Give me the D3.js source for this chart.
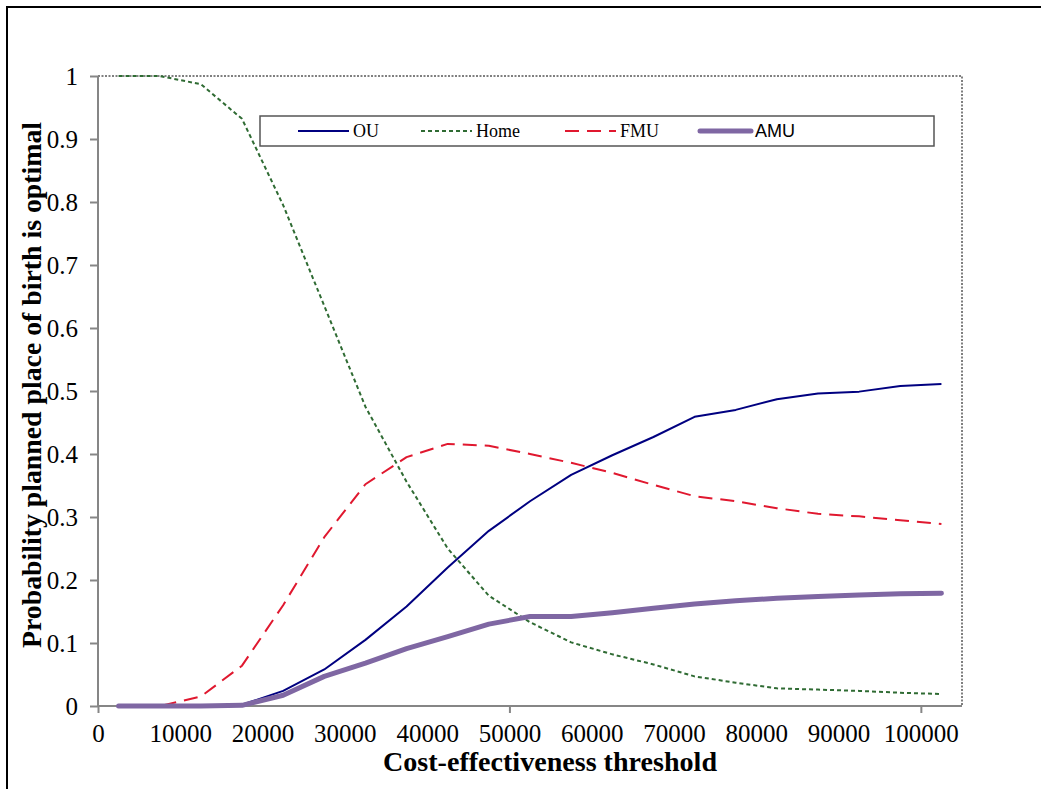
<!DOCTYPE html>
<meta charset="utf-8">
<style>
body { margin: 0; background: #fff; }
.axis path, .axis line { stroke: #868686; stroke-width: 2; }
.title { font-family: "Liberation Serif", "Times New Roman", serif; font-weight: bold; font-size: 28px; fill: #000; }
.legend text { font-size: 18px; fill: #000; }
</style>
<svg width="1041" height="789"></svg>
<script src="https://cdn.jsdelivr.net/npm/d3@7"></script>
<script>

// thresholds (cost-effectiveness) at which each probability was evaluated
var thresholds = [2500, 7500, 12500, 17500, 22500, 27500, 32500, 37500, 42500, 47500,
                  52500, 57500, 62500, 67500, 72500, 77500, 82500, 87500, 92500, 97500, 102500];

var ou   = [0, 0, 0, 0.002, 0.024, 0.058, 0.105, 0.158, 0.22, 0.278,
            0.325, 0.367, 0.398, 0.427, 0.459, 0.47, 0.487, 0.496, 0.499, 0.508, 0.511];
var home = [1.0, 1.0, 0.987, 0.932, 0.795, 0.635, 0.475, 0.356, 0.25, 0.175,
            0.133, 0.101, 0.082, 0.066, 0.047, 0.037, 0.028, 0.026, 0.024, 0.021, 0.019];
var fmu  = [0, 0, 0.015, 0.064, 0.16, 0.268, 0.352, 0.395, 0.416, 0.413,
            0.4, 0.386, 0.37, 0.351, 0.333, 0.325, 0.314, 0.305, 0.301, 0.295, 0.289];
var amu  = [0, 0, 0, 0.001, 0.017, 0.047, 0.068, 0.091, 0.11, 0.13,
            0.142, 0.142, 0.148, 0.155, 0.162, 0.167, 0.171, 0.174, 0.176, 0.178, 0.179];

var xTicks = [0, 10000, 20000, 30000, 40000, 50000, 60000, 70000, 80000, 90000, 100000];
var yTicks = [0, 0.1, 0.2, 0.3, 0.4, 0.5, 0.6, 0.7, 0.8, 0.9, 1];

var series = [
  {name: "OU",   values: ou,   color: "#000080", width: 2,   dash: null,   font: "Liberation Serif"},
  {name: "Home", values: home, color: "#2f6b33", width: 2,   dash: "4,3",  font: "Liberation Serif"},
  {name: "FMU",  values: fmu,  color: "#e0182f", width: 2,   dash: "14,8", font: "Liberation Serif"},
  {name: "AMU",  values: amu,  color: "#7f67a3", width: 5,   dash: null,   font: "Liberation Sans"}
];

var svg = d3.select("svg"),
    margin = {top: 76, right: 79, bottom: 83, left: 98},
    width = +svg.attr("width") - margin.left - margin.right,
    height = +svg.attr("height") - margin.top - margin.bottom;

// outer frame
svg.append("rect")
    .attr("x", 7).attr("y", 7)
    .attr("width", 1060).attr("height", 820)
    .attr("fill", "none")
    .attr("stroke", "#000")
    .attr("stroke-width", 2);

var x = d3.scaleLinear().domain([0, 105000]).range([0, width]),
    y = d3.scaleLinear().domain([0, 1]).range([height, 0]);

var g = svg.append("g")
    .attr("transform", "translate(" + margin.left + "," + margin.top + ")");

// dotted top and right edges of plot area
g.append("path")
    .attr("d", "M0,0H" + width + "V" + height)
    .attr("fill", "none")
    .attr("stroke", "#000")
    .attr("stroke-width", 1)
    .attr("stroke-dasharray", "2,1.5");

var ya = g.append("g")
    .attr("class", "axis axis--y")
    .call(d3.axisLeft(y).tickValues(yTicks).tickSize(8).tickPadding(12)
      .tickFormat(function(d) { return d === 0 || d === 1 ? d3.format("d")(d) : d3.format(".1f")(d); }))
    .call(function(a) { a.select(".domain").attr("d", "M0,0V" + height); });

var xa = g.append("g")
    .attr("class", "axis axis--x")
    .attr("transform", "translate(0," + height + ")")
    .call(d3.axisBottom(x).tickValues(xTicks).tickSize(7).tickPadding(11).tickFormat(d3.format("d")))
    .call(function(a) { a.select(".domain").attr("d", "M0,0H" + width); });

xa.selectAll(".tick line")
    .attr("display", function(d) { return d % 50000 === 0 ? null : "none"; });

svg.selectAll(".axis")
    .attr("font-family", "Liberation Serif, Times New Roman, serif")
    .attr("font-size", 25);
svg.selectAll(".axis text")
    .style("font-size", "25px")
    .style("font-family", "'Liberation Serif', 'Times New Roman', serif")
    .attr("fill", "#000");

var line = d3.line()
    .x(function(d, i) { return x(thresholds[i]); })
    .y(function(d) { return y(d); });

g.selectAll(".series")
    .data(series)
  .enter().append("path")
    .attr("class", "series")
    .attr("d", function(d) { return line(d.values); })
    .attr("fill", "none")
    .attr("stroke", function(d) { return d.color; })
    .attr("stroke-width", function(d) { return d.width; })
    .attr("stroke-dasharray", function(d) { return d.dash; })
    .attr("stroke-linecap", function(d) { return d.name === "AMU" ? "round" : "butt"; })
    .attr("stroke-linejoin", "round");

// axis titles
svg.append("text")
    .attr("class", "title")
    .attr("x", 550).attr("y", 771)
    .attr("text-anchor", "middle")
    .attr("textLength", 334)
    .attr("lengthAdjust", "spacingAndGlyphs")
    .text("Cost-effectiveness threshold");

svg.append("text")
    .attr("class", "title")
    .attr("transform", "translate(41,385) rotate(-90)")
    .attr("text-anchor", "middle")
    .attr("textLength", 526)
    .attr("lengthAdjust", "spacingAndGlyphs")
    .text("Probability planned place of birth is optimal");

// legend
var legend = svg.append("g")
    .attr("class", "legend")
    .attr("transform", "translate(260,116)");

legend.append("rect")
    .attr("width", 674).attr("height", 30)
    .attr("fill", "#fff")
    .attr("stroke", "#555")
    .attr("stroke-width", 1.5);

var legendX = [38, 161, 305, 440];

var item = legend.selectAll(".item")
    .data(series)
  .enter().append("g")
    .attr("class", "item")
    .attr("transform", function(d, i) { return "translate(" + legendX[i] + ",15)"; });

item.append("line")
    .attr("x1", 0).attr("x2", 51)
    .attr("stroke", function(d) { return d.color; })
    .attr("stroke-width", function(d) { return d.width; })
    .attr("stroke-dasharray", function(d) { return d.dash; })
    .attr("stroke-linecap", function(d) { return d.name === "AMU" ? "round" : "butt"; });

item.append("text")
    .attr("x", 55)
    .attr("dy", "0.35em")
    .style("font-family", function(d) { return d.font; })
    .text(function(d) { return d.name; });

</script>
